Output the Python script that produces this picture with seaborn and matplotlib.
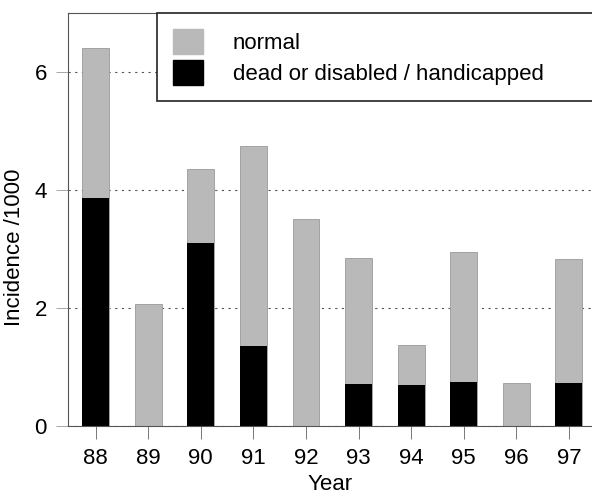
import matplotlib
matplotlib.use("Agg")
import matplotlib.pyplot as plt
from matplotlib.patches import Patch
import numpy as np
import pandas as pd
import seaborn as sns

years = ["88", "89", "90", "91", "92", "93", "94", "95", "96", "97"]
normal = [2.55, 2.06, 1.25, 3.39, 3.50, 2.14, 0.68, 2.21, 0.72, 2.11]
dead = [3.86, 0.0, 3.10, 1.35, 0.0, 0.70, 0.68, 0.74, 0.0, 0.72]
legend_labels = ["normal", "dead or disabled / handicapped"]

df = pd.DataFrame({"Year": years, "normal": normal, "dead": dead})
df["total"] = df["normal"] + df["dead"]

sns.set_theme(style="white")
plt.rcParams["font.family"] = ["Liberation Sans", "DejaVu Sans"]
plt.rcParams["text.color"] = "black"
plt.rcParams["axes.labelcolor"] = "black"
plt.rcParams["xtick.labelcolor"] = "black"
plt.rcParams["ytick.labelcolor"] = "black"

grey = "#b9b9b9"
fig = plt.figure(figsize=(5.92, 4.96), dpi=100)
ax = fig.add_axes([0.1144, 0.1421, 0.8856, 0.8311])

sns.barplot(data=df, x="Year", y="total", order=years, color=grey, width=0.51,
            saturation=1, errorbar=None, edgecolor="#9a9a9a", linewidth=0.6, ax=ax)
sns.barplot(data=df, x="Year", y="dead", order=years, color="black", width=0.51,
            saturation=1, errorbar=None, linewidth=0, ax=ax)

ax.set_xlim(-0.53, 9.44)
ax.set_ylim(0, 7.0)
ax.set_yticks([0, 2, 4, 6])
ax.set_yticklabels(["0", "2", "4", "6"])
ax.set_axisbelow(True)
ax.yaxis.grid(True, linestyle=(0, (2, 4)), color="#555555", linewidth=0.8)
ax.xaxis.grid(False)

ax.tick_params(axis="x", bottom=True, length=9.5, width=0.7, color="#777777",
               labelsize=16, labelcolor="black", pad=7, direction="out")
ax.tick_params(axis="y", left=True, length=9, width=0.6, color="#999999",
               labelsize=16, labelcolor="black", pad=6, direction="out")

for side in ["left", "bottom", "top"]:
    ax.spines[side].set_visible(True)
    ax.spines[side].set_color("#555555")
    ax.spines[side].set_linewidth(0.8)
ax.spines["right"].set_visible(False)

ax.set_xlabel("Year", fontsize=16, color="black")
ax.set_ylabel("Incidence /1000", fontsize=16, color="black")
ax.xaxis.set_label_coords(0.5, -0.117)
ax.yaxis.set_label_coords(-0.081, 0.433)

handles = [Patch(facecolor=grey, edgecolor=grey), Patch(facecolor="black", edgecolor="black")]
leg = ax.legend(handles, legend_labels, loc="upper left", mode="expand",
                bbox_to_anchor=(0.1703, 0.0, 1.2, 1.0), borderaxespad=0,
                fontsize=16, frameon=True, fancybox=False, handlelength=1.35,
                handleheight=1.35, handletextpad=1.35, labelspacing=0.3,
                borderpad=0.7)
leg.get_frame().set_edgecolor("#222222")
leg.get_frame().set_linewidth(1.2)
leg.get_frame().set_alpha(1)
for t in leg.get_texts():
    t.set_color("black")

fig.savefig("out.png", dpi=100)
